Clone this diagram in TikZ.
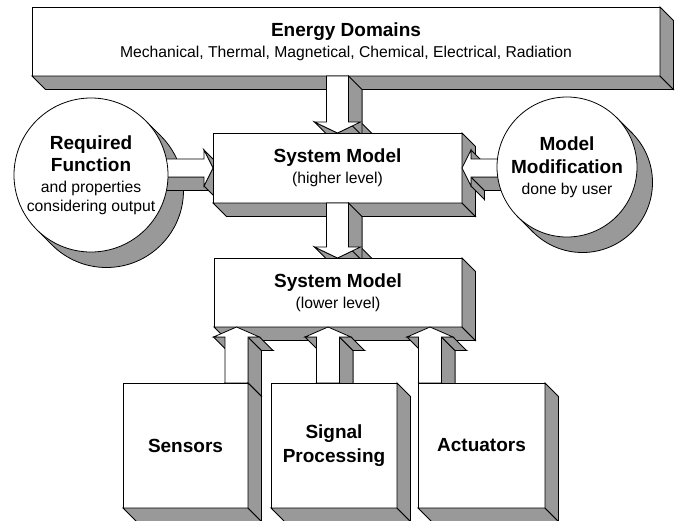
\documentclass[tikz,border=0pt]{standalone}
\usepackage{fontspec}
\setmainfont{Liberation Sans}
\usetikzlibrary{calc}
\definecolor{sidegray}{RGB}{153,153,153}
\pgfdeclarelayer{l1}\pgfdeclarelayer{l2}\pgfdeclarelayer{l3}
\pgfdeclarelayer{l4}\pgfdeclarelayer{l5}\pgfdeclarelayer{l6}\pgfdeclarelayer{l7}
\pgfsetlayers{l1,l2,l3,l4,l5,l6,l7,main}
% depth of the extrusion (towards the lower right)
\newcommand\dep{13.5}
\newcommand\cdep{15.5}
\newcommand\ttl[1]{{\fontsize{19}{23}\selectfont\bfseries #1}}
% visible side faces of an extruded rectangle node
\newcommand\boxsides[1]{%
  \filldraw[side] (#1.south west) -- (#1.south east) -- ($(#1.south east)+(\dep,\dep)$) -- ($(#1.south west)+(\dep,\dep)$) -- cycle;
  \filldraw[side] (#1.south east) -- (#1.north east) -- ($(#1.north east)+(\dep,\dep)$) -- ($(#1.south east)+(\dep,\dep)$) -- cycle;
}
% extruded disc behind a circle: centre, radius
\newcommand\discshadow[2]{%
  \filldraw[side] ($(#1)+(\cdep,\cdep)$) circle[radius=#2pt];
  \fill[sidegray] ($(#1)+(-45:#2)$) -- ($(#1)+(-45:#2)+(\cdep,\cdep)$) -- ($(#1)+(135:#2)+(\cdep,\cdep)$) -- ($(#1)+(135:#2)$) -- cycle;
  \draw[edge] ($(#1)+(-45:#2)$) -- ++(\cdep,\cdep);
  \draw[edge] ($(#1)+(135:#2)$) -- ++(\cdep,\cdep);
}
% extruded block arrow: start, tip, shaft half width, head half width, head length
\newcommand\blockarrow[5]{%
  \coordinate (bH) at ($(#2)!#5pt!(#1)$);
  \coordinate (v1) at ($(#1)!#3pt!-90:(#2)$);
  \coordinate (v2) at ($(bH)!#3pt!-90:(#2)$);
  \coordinate (v3) at ($(bH)!#4pt!-90:(#2)$);
  \coordinate (v4) at (#2);
  \coordinate (v5) at ($(bH)!#4pt!90:(#2)$);
  \coordinate (v6) at ($(bH)!#3pt!90:(#2)$);
  \coordinate (v7) at ($(#1)!#3pt!90:(#2)$);
  \filldraw[side] ($(v1)+(\dep,\dep)$) -- ($(v2)+(\dep,\dep)$) -- ($(v3)+(\dep,\dep)$) -- ($(v4)+(\dep,\dep)$)
     -- ($(v5)+(\dep,\dep)$) -- ($(v6)+(\dep,\dep)$) -- ($(v7)+(\dep,\dep)$) -- cycle;
  \foreach \i/\j in {1/2,2/3,3/4,4/5,5/6,6/7,7/1}{%
    \path (v\i); \pgfgetlastxy{\xa}{\ya}%
    \path (v\j); \pgfgetlastxy{\xb}{\yb}%
    \pgfmathsetmacro\vis{\xb-\xa+\yb-\ya}%
    \ifdim\vis pt>0.01pt
      \filldraw[side] (v\i) -- (v\j) -- ($(v\j)+(\dep,\dep)$) -- ($(v\i)+(\dep,\dep)$) -- cycle;
    \fi
  }
  \filldraw[face] (v1) -- (v2) -- (v3) -- (v4) -- (v5) -- (v6) -- (v7) -- cycle;
}
\begin{document}
\begin{tikzpicture}[x=1pt,y=-1pt,
  edge/.style={draw=black,line width=0.8pt},
  face/.style={draw=black,fill=white,line width=0.8pt},
  side/.style={draw=black,fill=sidegray,line width=0.8pt},
  box/.style={face,rectangle,inner sep=0pt,outer sep=0pt,align=center,
    font=\fontsize{15.7}{19}\selectfont},
  disc/.style={face,circle,inner sep=-20pt,outer sep=0pt,align=center,
    font=\fontsize{15.7}{19}\selectfont}]
\useasboundingbox (0,0) rectangle (679,520);

% blocks
\begin{pgfonlayer}{l1}
  \node[box,minimum width=628pt,minimum height=69pt] (top) at (346,41.5)
    {\ttl{Energy Domains}\\[2pt]Mechanical, Thermal, Magnetical, Chemical, Electrical, Radiation};
  \boxsides{top}
  \coordinate (reqc) at (91,175);
  \coordinate (modc) at (567,167);
  \discshadow{reqc}{77}
  \discshadow{modc}{70}
\end{pgfonlayer}
\begin{pgfonlayer}{l3}
  \node[box,minimum width=249pt,minimum height=70pt] (sys1) at (337.5,168)
    {\ttl{System Model}\\[2pt](higher level)};
  \boxsides{sys1}
\end{pgfonlayer}
\begin{pgfonlayer}{l5}
  \node[box,minimum width=248pt,minimum height=69pt] (sys2) at (338,292.5)
    {\ttl{System Model}\\[2pt](lower level)};
  \boxsides{sys2}
  \node[disc,minimum size=154pt] (req) at (reqc)
    {\ttl{Required}\\[3pt]\ttl{Function}\\[2pt]and properties\\[0pt]considering output};
  \node[disc,minimum size=140pt] (mod) at (modc)
    {\ttl{Model}\\[4pt]\ttl{Modification}\\[2pt]done by user};
\end{pgfonlayer}
\begin{pgfonlayer}{l7}
  \node[box,minimum width=125pt,minimum height=125pt] (sens) at (185.5,445.5) {\ttl{Sensors}};
  \node[box,minimum width=126pt,minimum height=125pt] (sig) at (334,445.5) {\ttl{Signal}\\[5pt]\ttl{Processing}};
  \node[box,minimum width=127pt,minimum height=125pt] (act) at (481.5,445.5) {\ttl{Actuators}};
  \boxsides{sens}
  \boxsides{sig}
  \boxsides{act}
\end{pgfonlayer}

% arrows
\coordinate (a1s) at (sys1.north |- top.south);
\coordinate (a2s) at (req.center |- sys1.west);
\coordinate (a3s) at (mod.center |- sys1.east);
\coordinate (a4e) at (sys1.south |- sys2.north);
\coordinate (u1s) at ([xshift=-11.5pt]sens.north east);
\coordinate (u2s) at ([xshift=-6pt]sig.north);
\coordinate (u3s) at ([xshift=12pt]act.north west);
\coordinate (u1e) at (u1s |- sys2.south);
\coordinate (u2e) at (u2s |- sys2.south);
\coordinate (u3e) at (u3s |- sys2.south);
\begin{pgfonlayer}{l2}
  \blockarrow{a1s}{sys1.north}{11}{23}{11}
  \blockarrow{a2s}{sys1.west}{9}{18}{9}
\end{pgfonlayer}
\begin{pgfonlayer}{l4}
  \blockarrow{a3s}{sys1.east}{9}{18}{9}
  \blockarrow{sys1.south}{a4e}{11}{23}{11}
\end{pgfonlayer}
\begin{pgfonlayer}{l6}
  \blockarrow{u1s}{u1e}{11.5}{23}{10}
  \blockarrow{u2s}{u2e}{11.5}{23}{10}
  \blockarrow{u3s}{u3e}{11.5}{23}{10}
\end{pgfonlayer}
\end{tikzpicture}
\end{document}
